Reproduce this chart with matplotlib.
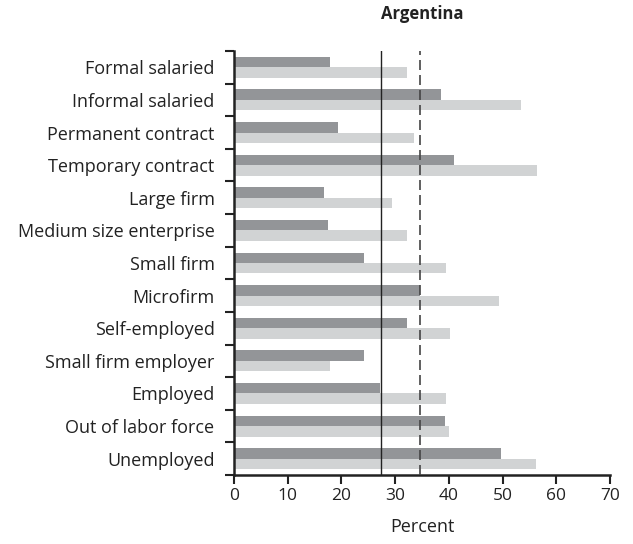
"""
Argentina: horizontal paired bars by employment category.
"""

import numpy as np
import matplotlib.pyplot as plt
from matplotlib.ticker import FixedLocator, NullFormatter

plt.rcParams['font.family'] = ['Open Sans', 'DejaVu Sans']

categories = [
    'Formal salaried', 'Informal salaried', 'Permanent contract',
    'Temporary contract', 'Large firm', 'Medium size enterprise',
    'Small firm', 'Microfirm', 'Self-employed', 'Small firm employer',
    'Employed', 'Out of labor force', 'Unemployed',
]
dark_values = [17.8, 38.5, 19.3, 40.9, 16.7, 17.5, 24.2, 34.6, 32.3, 24.2, 27.2, 39.2, 49.8]
light_values = [32.2, 53.5, 33.5, 56.5, 29.4, 32.2, 39.4, 49.4, 40.3, 17.8, 39.4, 40.1, 56.3]
solid_ref = 27.3
dashed_ref = 34.7

DARK = '#939598'
LIGHT = '#d1d3d4'
INK = '#222222'

fig = plt.figure(figsize=(6.33, 5.44), dpi=100)
ax = fig.add_axes([234 / 633, 1 - 475 / 544, (610 - 234) / 633, (475 - 51) / 544])

y = np.arange(len(categories))
h = 0.32
ax.barh(y - h / 2, dark_values, height=h, color=DARK, zorder=2)
ax.barh(y + h / 2, light_values, height=h, color=LIGHT, zorder=2)

ax.axvline(solid_ref, color=INK, linewidth=1.0, zorder=3)
ax.axvline(dashed_ref, color='#444444', linewidth=1.2, linestyle=(0, (6, 3)), zorder=3)

ax.set_xlim(0, 70)
ax.set_ylim(len(categories) - 0.5, -0.5)
ax.set_xticks(range(0, 71, 10))

# category boundaries get the tick marks, labels sit in between
ax.yaxis.set_major_locator(FixedLocator(np.arange(-0.5, len(categories), 1.0)))
ax.yaxis.set_major_formatter(NullFormatter())
ax.yaxis.set_minor_locator(FixedLocator(y))
ax.set_yticklabels(categories, minor=True)
ax.tick_params(axis='y', which='major', length=6.5, width=1.5, direction='out', color=INK)
ax.tick_params(axis='y', which='minor', length=0, pad=14, labelsize=13, labelcolor=INK)
ax.tick_params(axis='x', length=6.5, width=1.5, direction='out', color=INK,
               labelsize=12.5, labelcolor=INK, pad=3)

for side in ['top', 'right']:
    ax.spines[side].set_visible(False)
for side in ['left', 'bottom']:
    ax.spines[side].set_linewidth(1.8)
    ax.spines[side].set_color(INK)

ax.set_xlabel('Percent', fontsize=13, color=INK, labelpad=10)
fig.text(0.667, 1 - 14 / 544, 'Argentina', ha='center', va='center',
         fontsize=12, fontweight='bold', color=INK)

plt.savefig('out.png', dpi=100)
plt.close()
